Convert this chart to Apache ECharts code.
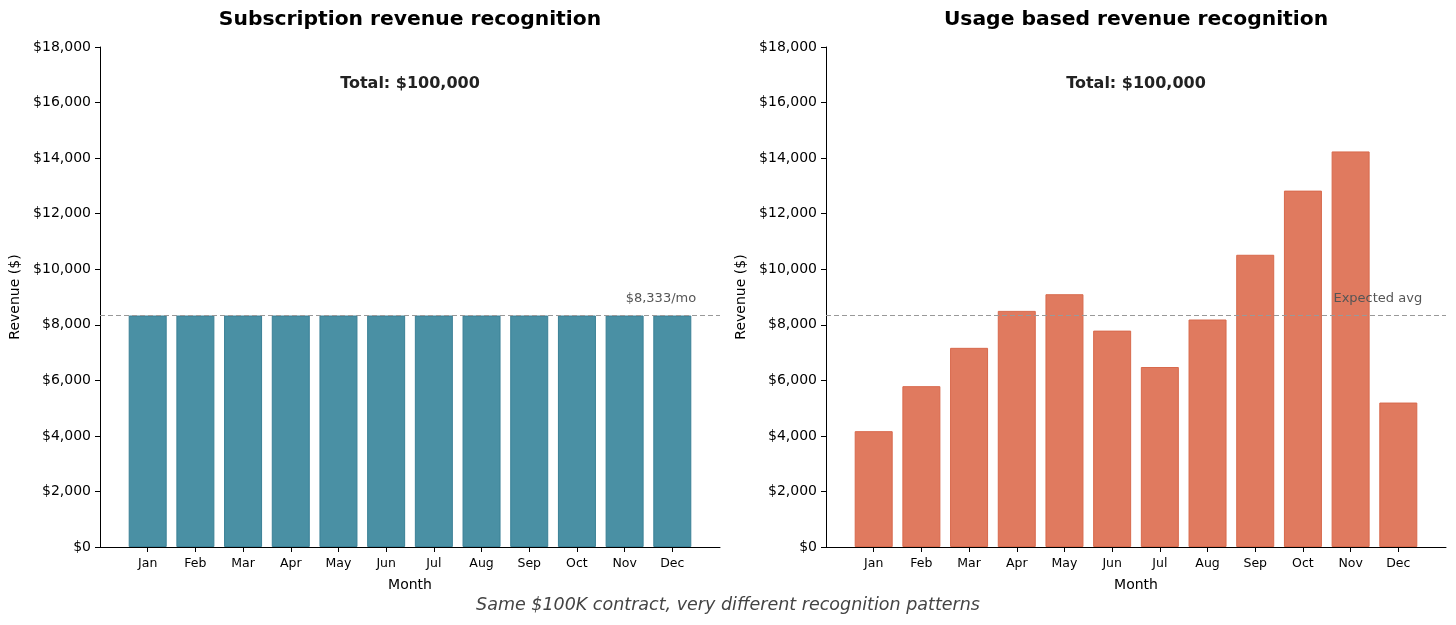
<!DOCTYPE html>
<html>
<head>
<meta charset="utf-8">
<script src="https://cdn.jsdelivr.net/npm/echarts@6/dist/echarts.min.js"></script>
<style>
html,body{margin:0;padding:0;background:#fff;}
#c{width:1456px;height:625px;}
</style>
</head>
<body>
<div id="c"></div>
<script>
const months = ['Jan','Feb','Mar','Apr','May','Jun','Jul','Aug','Sep','Oct','Nov','Dec'];
const subscription = [8333,8333,8333,8333,8333,8333,8333,8333,8333,8333,8333,8333];
const usage = [4170,5790,7170,8500,9100,7790,6480,8190,10520,12830,14240,5200];
const expectedAvg = 8333;
const yTicks = [0,2000,4000,6000,8000,10000,12000,14000,16000,18000];
const titles = ['Subscription revenue recognition','Usage based revenue recognition'];
const totalText = 'Total: $100,000';
const refLabels = ['$8,333/mo','Expected avg'];
const footer = 'Same $100K contract, very different recognition patterns';

const FONT = '"DejaVu Sans", sans-serif';
const chart = echarts.init(document.getElementById('c'), null, {renderer:'canvas'});
const tickIdx = months.map((m,i)=>i);
const grids = [{left:100, top:47, width:620, height:500},{left:826, top:47, width:620, height:500}];

function xAxis(gi){
  return {
    gridIndex: gi, type:'value', min:-1, max:12, interval:1,
    axisLine:{show:true, onZero:false, lineStyle:{color:'#000', width:1}},
    axisTick:{show:true, customValues: tickIdx, length:5, lineStyle:{color:'#000'}},
    axisLabel:{customValues: tickIdx, formatter: v => months[v] || '', color:'#000', fontSize:12.5, fontFamily:FONT, margin:10},
    splitLine:{show:false},
    name:'Month', nameLocation:'middle', nameGap:31,
    nameTextStyle:{color:'#000', fontSize:14, fontFamily:FONT}
  };
}
function yAxis(gi){
  return {
    gridIndex: gi, type:'value', min:yTicks[0], max:yTicks[yTicks.length-1], interval:yTicks[1]-yTicks[0],
    axisLine:{show:true, onZero:false, lineStyle:{color:'#000', width:1}},
    axisTick:{show:true, length:5, lineStyle:{color:'#000'}},
    axisLabel:{formatter: v => '$' + v.toLocaleString('en-US'), color:'#000', fontSize:14, fontFamily:FONT, margin:9},
    splitLine:{show:false},
    name:'Revenue ($)', nameLocation:'middle', nameGap:78, nameRotate:90,
    nameTextStyle:{color:'#000', fontSize:14, fontFamily:FONT}
  };
}
function barSeries(gi, vals, color, border, label){
  return {
    type:'bar', xAxisIndex:gi, yAxisIndex:gi,
    data: vals.map((v,i)=>[i,v]),
    barWidth:38,
    itemStyle:{color:color, borderColor:border, borderWidth:1},
    silent:true,
    markLine:{
      silent:true, symbol:'none',
      lineStyle:{type:[5,3], color:'#999', width:1},
      label:{show:false},
      data:[{yAxis:expectedAvg}]
    },
    markPoint:{
      silent:true, symbol:'circle', symbolSize:0,
      label:{show:true, position:'left', distance:0, formatter:label, color:'#555', fontSize:13, fontFamily:FONT},
      data:[{coord:[11.5, expectedAvg + 600]}]
    }
  };
}
const gx = [410, 1136];
const graphic = [];
titles.forEach((t,i)=>{
  graphic.push({type:'text', x:gx[i], y:20, style:{text:t, textAlign:'center', textVerticalAlign:'middle', font:'bold 20.3px ' + FONT, fill:'#000'}});
  graphic.push({type:'text', x:gx[i], y:84, style:{text:totalText, textAlign:'center', textVerticalAlign:'middle', font:'bold 16px ' + FONT, fill:'#222'}});
});
graphic.push({type:'text', x:728, y:605, style:{text:footer, textAlign:'center', textVerticalAlign:'middle', font:'italic 17.5px ' + FONT, fill:'#444'}});

chart.setOption({
  animation:false,
  backgroundColor:'#fff',
  grid: grids,
  xAxis:[xAxis(0), xAxis(1)],
  yAxis:[yAxis(0), yAxis(1)],
  series:[
    barSeries(0, subscription, '#4a90a4', '#3a8096', refLabels[0]),
    barSeries(1, usage, '#e07a5f', '#d8694c', refLabels[1])
  ],
  graphic: graphic
});
</script>
</body>
</html>
